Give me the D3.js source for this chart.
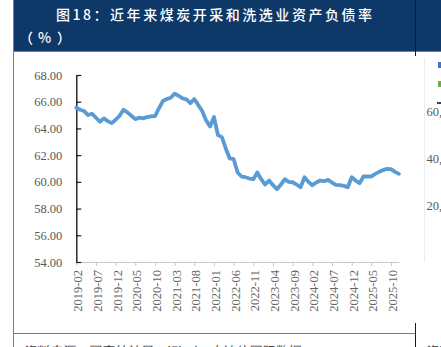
<!DOCTYPE html>
<html>
<head>
<meta charset="utf-8">
<script src="https://cdn.jsdelivr.net/npm/d3@7"></script>
<style>
  html, body { margin: 0; padding: 0; background: #ffffff; overflow: hidden; }
  svg { display: block; }
</style>
</head>
<body>
<svg id="chart" width="441" height="347"></svg>
<script>
// Coal mining & washing industry: asset-liability ratio (%), monthly
const startMonth = "2019-02";
const debtRatio = [
  65.55, 65.40, 65.30, 65.00, 65.10, 64.80, 64.50, 64.75, 64.55, 64.40,
  64.65, 64.95, 65.40, 65.20, 64.95, 64.70, 64.80, 64.75, 64.85, 64.90,
  64.93, 65.50, 66.05, 66.20, 66.30, 66.60, 66.45, 66.25, 66.18, 65.90,
  66.20, 65.75, 65.30, 64.60, 64.15, 64.85, 63.50, 63.35, 62.50, 61.75,
  61.70, 60.70, 60.40, 60.35, 60.25, 60.20, 60.70, 60.20, 59.80, 60.10,
  59.75, 59.45, 59.80, 60.20, 60.00, 59.97, 59.80, 59.60, 60.35, 60.00,
  59.75, 59.95, 60.10, 60.05, 60.15, 59.95, 59.78, 59.76, 59.70, 59.60,
  60.35, 60.10, 59.90, 60.40, 60.40, 60.40, 60.60, 60.75, 60.88, 60.98,
  60.95, 60.75, 60.60
];
const tickLabels = [
  "2019-02", "2019-07", "2019-12", "2020-05", "2020-10", "2021-03",
  "2021-08", "2022-01", "2022-06", "2022-11", "2023-04", "2023-09",
  "2024-02", "2024-07", "2024-12", "2025-05", "2025-10"
];
const yTicks = [54, 56, 58, 60, 62, 64, 66, 68];
const titleText = "图18：近年来煤炭开采和洗选业资产负债率";
const unitParts = ["（", "%", "）"];
const sourceText = "资料来源：国家统计局，iFind，中达信国际数据";
const sideTicks = ["60,000", "40,000", "20,000"];

// month labels for every data point
const fmt = d3.utcFormat("%Y-%m");
const start = d3.utcParse("%Y-%m")(startMonth);
const months = debtRatio.map((_, i) => fmt(d3.utcMonth.offset(start, i)));
const data = months.map((m, i) => ({ month: m, value: debtRatio[i] }));

const svg = d3.select("#chart");
const serif = "'Liberation Serif', 'Times New Roman', serif";
const cjk = "'Noto Sans CJK SC', 'Noto Sans', sans-serif";

// header band
svg.append("rect").attr("x", 14).attr("y", 0).attr("width", 427).attr("height", 51)
  .attr("fill", "#0d3868");
svg.append("line").attr("x1", 14).attr("x2", 441).attr("y1", 51.5).attr("y2", 51.5)
  .attr("stroke", "#6f7f92").attr("stroke-width", 1);
svg.append("text").attr("x", 56).attr("y", 20)
  .attr("font-family", cjk).attr("font-size", 14).attr("font-weight", 500)
  .attr("fill", "#ffffff")
  .attr("textLength", 316).attr("lengthAdjust", "spacing")
  .text(titleText);
// unit line: wide-spaced full-width brackets
const unit = svg.append("text").attr("y", 43)
  .attr("font-family", cjk).attr("font-size", 14).attr("font-weight", 500)
  .attr("fill", "#ffffff");
const unitX = [19, 38, 57];
unit.selectAll("tspan").data(unitParts).join("tspan")
  .attr("x", (d, i) => unitX[i]).text(d => d);

// frame lines
svg.append("line").attr("x1", 13.5).attr("x2", 13.5).attr("y1", 0).attr("y2", 347)
  .attr("stroke", "#808080").attr("stroke-width", 1);
svg.append("line").attr("x1", 415.5).attr("x2", 415.5).attr("y1", 0).attr("y2", 56)
  .attr("stroke", "#1a1a1a").attr("stroke-width", 1);
svg.append("line").attr("x1", 13).attr("x2", 416).attr("y1", 333.5).attr("y2", 333.5)
  .attr("stroke", "#7a7a7a").attr("stroke-width", 1);
svg.append("line").attr("x1", 415.5).attr("x2", 415.5).attr("y1", 323).attr("y2", 347)
  .attr("stroke", "#1a1a1a").attr("stroke-width", 1);

// footer source line (runs past the bottom edge of the page)
svg.append("text").attr("x", 22).attr("y", 356)
  .attr("font-family", cjk).attr("font-size", 13).attr("font-style", "italic")
  .attr("fill", "#404040").text(sourceText);
svg.append("text").attr("x", 424).attr("y", 356)
  .attr("font-family", cjk).attr("font-size", 13).attr("font-style", "italic")
  .attr("fill", "#404040").text("资料");

// neighbouring panel at the right edge
svg.append("line").attr("x1", 424.5).attr("x2", 424.5).attr("y1", 58).attr("y2", 262)
  .attr("stroke", "#ececec").attr("stroke-width", 1);
svg.append("rect").attr("x", 438).attr("y", 62).attr("width", 4).attr("height", 6).attr("fill", "#4472c4");
svg.append("rect").attr("x", 438).attr("y", 81).attr("width", 4).attr("height", 6).attr("fill", "#70ad47");
svg.append("rect").attr("x", 437).attr("y", 102).attr("width", 5).attr("height", 2).attr("fill", "#264478");
const sideY = d3.scaleLinear().domain([0, 2]).range([112, 206]);
sideTicks.forEach((t, i) => {
  svg.append("text").attr("x", 426.5).attr("y", sideY(i)).attr("dy", "0.35em")
    .attr("font-family", serif).attr("font-size", 12.5).attr("fill", "#595959").text(t);
});

// scales
const x = d3.scalePoint().domain(months).range([76.3, 398.9]);
const y = d3.scaleLinear().domain([54, 68]).range([262, 75]);

// x axis
const xAxis = svg.append("g").attr("transform", "translate(0,262)")
  .call(d3.axisBottom(x).tickValues(tickLabels).tickSize(4).tickSizeOuter(0));
xAxis.select(".domain").attr("stroke", "#c8c8c8").attr("stroke-width", 1);
xAxis.selectAll(".tick line").attr("stroke", "#c8c8c8");
xAxis.selectAll(".tick text")
  .attr("font-family", serif).attr("font-size", 12.5).attr("fill", "#666666")
  .attr("transform", "rotate(-90)")
  .attr("text-anchor", "end")
  .attr("x", -8).attr("y", 1).attr("dy", "0.35em");

// y axis
const yAxis = svg.append("g").attr("transform", "translate(76.3,0)")
  .call(d3.axisRight(y).tickValues(yTicks).tickSize(5).tickSizeOuter(0).tickFormat(d3.format(".2f")));
yAxis.select(".domain").attr("stroke", "#1a1a1a").attr("stroke-width", 1.4);
yAxis.selectAll(".tick line").attr("stroke", "#1a1a1a").attr("stroke-width", 1.2);
yAxis.selectAll(".tick text")
  .attr("font-family", serif).attr("font-size", 12.5).attr("fill", "#595959")
  .attr("text-anchor", "end").attr("x", -14);

// series line
const line = d3.line().x(d => x(d.month)).y(d => y(d.value));
svg.append("path").datum(data)
  .attr("d", line)
  .attr("fill", "none")
  .attr("stroke", "#5b9bd5")
  .attr("stroke-width", 3.8)
  .attr("stroke-linejoin", "round")
  .attr("stroke-linecap", "round");
</script>
</body>
</html>
